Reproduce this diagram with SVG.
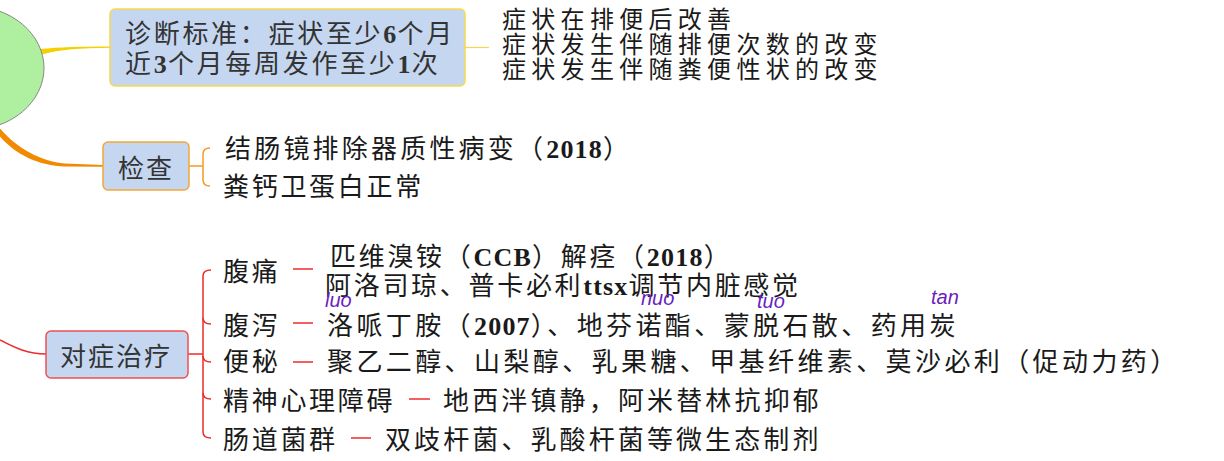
<svg xmlns="http://www.w3.org/2000/svg" width="1224" height="461" viewBox="0 0 1224 461">
<style>
.cjk{font-family:"Noto Sans CJK SC","Noto Sans",sans-serif;fill:#1a1a1a;}
.t26{font-size:26px;letter-spacing:2.7px;}
.t24{font-size:24px;letter-spacing:5.3px;}
.box{fill:#c5d7f0;}
.btxt{fill:#333;}
.n{font-family:"Liberation Serif",serif;font-weight:bold;letter-spacing:1.2px;}
.py{font-family:"Liberation Sans",sans-serif;font-style:italic;font-size:20px;fill:#6a1fc0;}
.red{stroke:#ee2b2b;stroke-width:1.5;fill:none;}
.org{stroke:#f39a24;stroke-width:1.5;fill:none;}
</style>
<rect width="1224" height="461" fill="#ffffff"/>

<g id="connectors">
  <path d="M40,49 C60,47.2 80,46.5 110,46.5 L110,47.8 C80,48 60,49.5 42,54.5 Z" fill="#f5d000"/>
  <line x1="465" y1="47.5" x2="489" y2="47.5" stroke="#f5d84a" stroke-width="1.2"/>
  <path d="M-2,126 C16,148 40,161 65,163.5 L103,165 L103,166.8 L65,166.5 C38,165.5 14,154 -2,134 Z" fill="#f28a00"/>
  <line class="org" x1="189" y1="166" x2="203" y2="166"/>
  <path class="org" d="M210,148 Q203,148 203,154 L203,180 Q203,186 210,186"/>
  <path class="red" d="M0,340 C15,348 28,354 46,354"/>
  <line class="red" x1="188" y1="354" x2="203" y2="354"/>
  <path class="red" d="M211,270 Q203,270 203,276 L203,432 Q203,438 211,438"/>
  <path class="red" d="M203,318 Q203,324 211,324"/>
  <path class="red" d="M203,356 Q203,362 211,362"/>
  <path class="red" d="M203,393 Q203,399 211,399"/>
  <line class="red" x1="293" y1="269" x2="313" y2="269"/>
  <line class="red" x1="293" y1="323" x2="313" y2="323"/>
  <line class="red" x1="293" y1="362" x2="313" y2="362"/>
  <line class="red" x1="409" y1="399" x2="430" y2="399"/>
  <line class="red" x1="351" y1="438" x2="371" y2="438"/>
</g>

<g id="root">
  <ellipse cx="-30" cy="68" rx="74" ry="62" fill="#aef0a0" stroke="#888" stroke-width="1"/>
</g>

<g id="diagnosis">
  <rect class="box" x="110" y="9" width="355" height="77" rx="5" stroke="#f7d94c" stroke-width="1.5"/>
  <text class="cjk t26 btxt" x="125" y="43">诊断标准：症状至少<tspan class="n">6</tspan>个月</text>
  <text class="cjk t26 btxt" x="125" y="73">近<tspan class="n">3</tspan>个月每周发作至少<tspan class="n">1</tspan>次</text>
</g>
<g id="diagnosis-details">
  <text class="cjk t24" x="502" y="28">症状在排便后改善</text>
  <text class="cjk t24" x="502" y="53">症状发生伴随排便次数的改变</text>
  <text class="cjk t24" x="502" y="78">症状发生伴随粪便性状的改变</text>
</g>

<g id="exam">
  <rect class="box" x="103" y="142" width="86" height="48" rx="5" stroke="#f4a636" stroke-width="1.5"/>
  <text class="cjk t26 btxt" x="118" y="178" style="letter-spacing:2px">检查</text>
</g>
<g id="exam-details">
  <text class="cjk t26" x="225" y="158" style="letter-spacing:3.2px">结肠镜排除器质性病变（<tspan class="n">2018</tspan>）</text>
  <text class="cjk t26" x="223" y="196">粪钙卫蛋白正常</text>
</g>

<g id="treatment">
  <rect class="box" x="46" y="331" width="142" height="47" rx="5" stroke="#f05050" stroke-width="1.5"/>
  <text class="cjk t26 btxt" x="60" y="366" style="letter-spacing:2px">对症治疗</text>
</g>

<g id="pain">
  <text class="cjk t26" x="223" y="281">腹痛</text>
  <text class="cjk t26" x="330" y="266">匹维溴铵（<tspan class="n">CCB</tspan>）解痉（<tspan class="n">2018</tspan>）</text>
  <text class="cjk t26" x="325" y="295">阿洛司琼、普卡必利<tspan class="n">ttsx</tspan>调节内脏感觉</text>
</g>
<g id="diarrhea">
  <text class="cjk t26" x="223" y="335">腹泻</text>
  <text class="cjk t26" x="327" y="335" style="letter-spacing:3.4px">洛哌丁胺（<tspan class="n">2007</tspan>）、地芬诺酯、蒙脱石散、药用炭</text>
  <text class="py" x="325" y="307">luo</text>
  <text class="py" x="641" y="305">nuo</text>
  <text class="py" x="757" y="308">tuo</text>
  <text class="py" x="931" y="304">tan</text>
</g>
<g id="constipation">
  <text class="cjk t26" x="223" y="371">便秘</text>
  <text class="cjk t26" x="327" y="371" style="letter-spacing:3.4px">聚乙二醇、山梨醇、乳果糖、甲基纤维素、莫沙必利（促动力药）</text>
</g>
<g id="psych">
  <text class="cjk t26" x="223" y="410">精神心理障碍</text>
  <text class="cjk t26" x="443" y="410" style="letter-spacing:3.15px">地西泮镇静，阿米替林抗抑郁</text>
</g>
<g id="flora">
  <text class="cjk t26" x="223" y="449">肠道菌群</text>
  <text class="cjk t26" x="385" y="449" style="letter-spacing:3.1px">双歧杆菌、乳酸杆菌等微生态制剂</text>
</g>
</svg>
